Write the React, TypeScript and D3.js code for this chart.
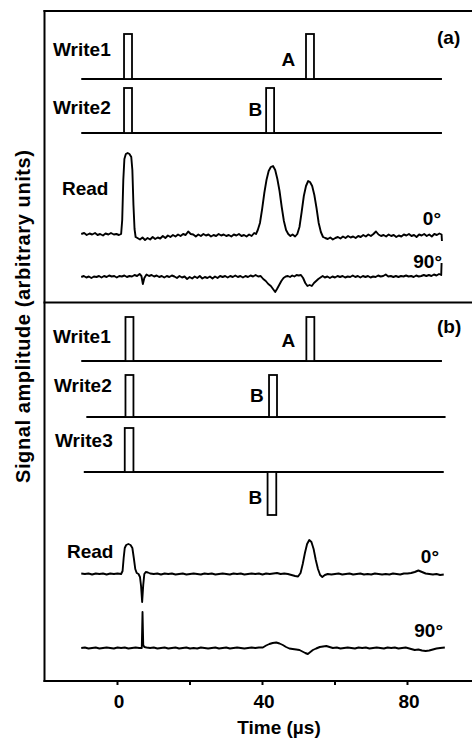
import React from "react";
import * as d3 from "d3";

// ---------- data ----------
const xDomain: [number, number] = [-20, 100];
const xTickValues = [0, 20, 40, 60, 80];
const xTickLabels = ["0", "", "40", "", "80"];

type Pulse = { t0: number; t1: number; amp: number };

// write pulses (time in µs, amplitude in arbitrary units)
const pulsesAWrite1: Pulse[] = [
  { t0: 1.8, t1: 4.0, amp: 4.5 },
  { t0: 52.0, t1: 54.2, amp: 4.5 },
];
const pulsesAWrite2: Pulse[] = [
  { t0: 1.8, t1: 4.0, amp: 4.5 },
  { t0: 41.0, t1: 43.2, amp: 4.5 },
];
const pulsesBWrite1: Pulse[] = [
  { t0: 2.2, t1: 4.4, amp: 4.4 },
  { t0: 52.1, t1: 54.3, amp: 4.4 },
];
const pulsesBWrite2: Pulse[] = [
  { t0: 2.2, t1: 4.4, amp: 4.2 },
  { t0: 41.8, t1: 44.0, amp: 4.2 },
];
const pulsesBWrite3: Pulse[] = [
  { t0: 2.0, t1: 4.4, amp: 4.4 },
  { t0: 41.4, t1: 43.8, amp: -4.3 },
];

// read traces [time µs, amplitude]
const readA0: [number, number][] = [
  [-10, 0.1], [-9.2, 0.2], [-8.5, 0.0], [-7.7, 0.15], [-7, 0.05], [-6.2, 0.2], [-5.5, 0.0], [-4.8, 0.1],
  [-4, -0.05], [-3.3, 0.15], [-2.5, 0.05], [-1.8, 0.2], [-1, 0.05], [-0.3, 0.1], [0.4, 0.0], [1.0, 0.1],
  [1.3, 1.5], [1.6, 5.5], [1.9, 7.6], [2.3, 8.1], [2.8, 8.2], [3.3, 8.1], [3.8, 7.8], [4.1, 6.5],
  [4.4, 3.0], [4.7, 0.6], [5.0, -0.2], [5.5, -0.3], [6.2, -0.45], [6.9, -0.25], [7.6, -0.5], [8.3, -0.3],
  [9.0, -0.45], [9.7, -0.2], [10.4, -0.4], [11.1, -0.25], [11.8, -0.35], [12.5, -0.1], [13.2, -0.3],
  [13.9, -0.05], [14.6, -0.2], [15.3, 0.0], [16.0, -0.15], [16.7, 0.05], [17.4, -0.1], [18.1, 0.1],
  [18.8, 0.0], [19.5, 0.35], [20.2, 0.1], [20.9, 0.05], [21.6, -0.15], [22.3, 0.05], [23.0, -0.1],
  [23.7, 0.1], [24.4, -0.05], [25.1, 0.05], [25.8, -0.15], [26.5, 0.0], [27.2, -0.1], [27.9, 0.1],
  [28.6, -0.05], [29.3, 0.05], [30.0, -0.1], [30.7, 0.0], [31.4, -0.15], [32.1, 0.05], [32.8, -0.05],
  [33.5, 0.1], [34.2, -0.1], [34.9, 0.0], [35.6, -0.15], [36.3, 0.05], [37.0, -0.1], [37.7, 0.2],
  [38.2, 0.1], [38.7, 0.5], [39.3, 1.2], [39.9, 2.6], [40.5, 4.2], [41.1, 5.5], [41.7, 6.4], [42.3, 6.8],
  [42.9, 6.9], [43.5, 6.5], [44.1, 5.6], [44.7, 4.4], [45.3, 2.8], [45.9, 1.4], [46.5, 0.5], [47.1, 0.1],
  [47.7, -0.1], [48.3, 0.05], [49.0, -0.15], [49.6, 0.1], [50.2, 0.8], [50.8, 2.3], [51.4, 3.9],
  [52.0, 4.9], [52.6, 5.4], [53.1, 5.3], [53.7, 4.9], [54.3, 4.0], [54.9, 2.7], [55.5, 1.2], [56.1, 0.3],
  [56.7, -0.2], [57.3, -0.3], [58.0, -0.4], [58.7, -0.25], [59.4, -0.45], [60.1, -0.3], [60.8, -0.2],
  [61.5, -0.35], [62.2, -0.15], [62.9, -0.3], [63.6, -0.1], [64.3, -0.25], [65.0, -0.15], [65.7, -0.3],
  [66.4, -0.1], [67.1, -0.2], [67.8, 0.0], [68.5, -0.15], [69.2, 0.05], [69.9, -0.1], [70.6, 0.1],
  [71.3, 0.35], [72.0, 0.05], [72.7, -0.1], [73.4, 0.0], [74.1, -0.15], [74.8, 0.05], [75.5, -0.1],
  [76.2, 0.0], [76.9, -0.2], [77.6, -0.05], [78.3, -0.15], [79.0, 0.05], [79.7, -0.05], [80.4, 0.1],
  [81.1, -0.1], [81.8, 0.0], [82.5, -0.2], [83.2, 0.05], [83.9, -0.05], [84.6, 0.1], [85.3, -0.1],
  [86.0, 0.05], [86.7, -0.15], [87.4, 0.1], [88.1, 0.0], [88.8, 0.15], [89.4, 0.05], [89.5, -0.6],
];

const readA90: [number, number][] = [
  [-10, 0.0], [-9.3, 0.1], [-8.6, -0.05], [-7.9, 0.05], [-7.2, -0.1], [-6.5, 0.05], [-5.8, 0.0],
  [-5.1, 0.1], [-4.4, -0.05], [-3.7, 0.1], [-3.0, 0.0], [-2.3, 0.15], [-1.6, 0.05], [-0.9, 0.1],
  [-0.2, -0.05], [0.5, 0.1], [1.2, 0.05], [1.9, 0.15], [2.6, 0.0], [3.3, 0.1], [4.0, 0.05], [4.7, 0.2],
  [5.4, 0.1], [6.1, 0.3], [6.6, 0.1], [7.0, -0.7], [7.4, -0.1], [8.0, 0.25], [8.7, 0.1], [9.4, 0.2],
  [10.1, 0.05], [10.8, 0.15], [11.5, 0.0], [12.2, 0.1], [12.9, -0.05], [13.6, 0.1], [14.3, 0.0],
  [15.0, 0.15], [15.7, 0.05], [16.4, -0.1], [17.1, 0.1], [17.8, -0.05], [18.5, 0.05], [19.2, -0.2],
  [19.9, 0.0], [20.6, -0.15], [21.3, 0.05], [22.0, -0.1], [22.7, 0.1], [23.4, -0.15], [24.1, 0.0],
  [24.8, -0.1], [25.5, 0.05], [26.2, -0.15], [26.9, 0.05], [27.6, -0.1], [28.3, 0.1], [29.0, 0.0],
  [29.7, 0.1], [30.4, -0.05], [31.1, 0.1], [31.8, 0.0], [32.5, 0.15], [33.2, 0.0], [33.9, 0.1],
  [34.6, -0.05], [35.3, 0.1], [36.0, 0.0], [36.7, 0.15], [37.4, 0.05], [38.1, 0.2], [38.8, 0.05],
  [39.5, 0.1], [40.2, -0.2], [40.9, -0.4], [41.6, -0.7], [42.3, -0.9], [42.9, -1.2], [43.5, -1.5],
  [44.0, -1.2], [44.6, -0.8], [45.2, -0.4], [45.8, -0.1], [46.4, 0.05], [47.0, 0.1], [47.6, 0.0],
  [48.2, 0.15], [48.8, 0.05], [49.4, 0.2], [50.0, 0.15], [50.6, 0.2], [51.2, -0.1], [51.8, -0.6],
  [52.4, -0.9], [53.0, -0.8], [53.6, -0.9], [54.2, -0.6], [54.8, -0.4], [55.4, -0.2], [56.0, -0.05],
  [56.6, 0.1], [57.2, -0.05], [57.9, 0.05], [58.6, -0.1], [59.3, 0.05], [60.0, -0.05], [60.7, 0.1],
  [61.4, 0.0], [62.1, 0.1], [62.8, -0.05], [63.5, 0.05], [64.2, 0.0], [64.9, 0.15], [65.6, 0.0],
  [66.3, 0.1], [67.0, -0.05], [67.7, 0.1], [68.4, 0.0], [69.1, 0.1], [69.8, -0.05], [70.5, 0.05],
  [71.2, 0.0], [71.9, 0.15], [72.6, 0.05], [73.3, 0.1], [74.0, 0.25], [74.7, 0.05], [75.4, 0.1],
  [76.1, 0.0], [76.8, 0.1], [77.5, 0.0], [78.2, 0.1], [78.9, 0.05], [79.6, 0.15], [80.3, 0.05],
  [81.0, 0.1], [81.7, 0.0], [82.4, 0.15], [83.1, 0.05], [83.8, 0.1], [84.5, 0.2], [85.2, 0.1],
  [85.9, 0.2], [86.6, 0.1], [87.3, 0.25], [88.0, 0.15], [88.7, 0.3], [89.3, 0.2], [89.4, 1.4],
];

const readB0: [number, number][] = [
  [-10, 0.05], [-9, 0.0], [-8, 0.05], [-7, -0.05], [-6, 0.05], [-5, 0.0], [-4, 0.05], [-3, -0.05],
  [-2, 0.05], [-1, 0.0], [0, 0.05], [1.0, 0.0], [1.4, 0.3], [1.7, 1.6], [2.0, 2.6], [2.4, 2.9],
  [3.0, 3.0], [3.6, 2.9], [4.1, 2.6], [4.5, 1.6], [4.9, 0.5], [5.3, 0.1], [5.8, 0.0], [6.2, -0.3],
  [6.5, -1.2], [6.8, -2.8], [7.1, -1.1], [7.4, 0.0], [7.8, 0.2], [8.4, 0.15], [9.0, 0.05], [10, 0.0],
  [11, 0.05], [12, -0.05], [13, 0.05], [14, 0.0], [15, 0.05], [16, -0.05], [17, 0.0], [18, 0.05],
  [19, -0.05], [20, 0.0], [21, 0.05], [22, 0.0], [23, -0.05], [24, 0.05], [25, 0.0], [26, 0.05],
  [27, -0.05], [28, 0.0], [29, 0.05], [30, 0.0], [31, -0.05], [32, 0.05], [33, 0.0], [34, 0.05],
  [35, -0.05], [36, 0.0], [37, 0.05], [38, 0.0], [39, 0.05], [40, -0.05], [41, 0.05], [42, 0.0],
  [43, 0.05], [44, 0.1], [45, 0.0], [46, 0.05], [47, 0.0], [48, -0.1], [49.0, -0.2], [49.8, -0.25],
  [50.5, 0.1], [51.1, 1.0], [51.7, 2.1], [52.3, 3.0], [52.9, 3.4], [53.5, 3.2], [54.1, 2.5],
  [54.7, 1.4], [55.3, 0.5], [55.9, -0.1], [56.5, -0.3], [57.2, -0.1], [58, 0.0], [59, -0.05],
  [60, 0.0], [61, 0.05], [62, -0.05], [63, 0.0], [64, 0.05], [65, -0.05], [66, 0.0], [67, 0.05],
  [68, -0.05], [69, 0.0], [70, -0.05], [71, 0.05], [72, 0.0], [73, -0.05], [74, 0.0], [75, -0.05],
  [76, 0.05], [77, 0.0], [78, -0.05], [79, 0.05], [80, 0.05], [81, 0.1], [82, 0.2], [83, 0.35],
  [84, 0.2], [85, 0.05], [86, 0.0], [87, -0.05], [88, 0.0], [89, -0.1], [90, -0.05],
];

const readB90: [number, number][] = [
  [-10, 0.0], [-9, 0.05], [-8, -0.05], [-7, 0.0], [-6, 0.05], [-5, -0.05], [-4, 0.0], [-3, 0.05],
  [-2, 0.0], [-1, -0.05], [0, 0.05], [1, 0.0], [2, 0.05], [3, -0.05], [4, 0.0], [5, 0.05], [6.0, 0.0],
  [6.7, 0.0], [6.9, 3.6], [7.1, 0.3], [7.4, 0.1], [8, 0.05], [9, 0.0], [10, 0.05], [11, -0.05],
  [12, 0.0], [13, 0.05], [14, -0.05], [15, 0.0], [16, 0.05], [17, -0.05], [18, 0.0], [19, 0.05],
  [20, -0.05], [21, 0.0], [22, -0.05], [23, 0.05], [24, 0.0], [25, -0.05], [26, 0.0], [27, 0.05],
  [28, -0.05], [29, 0.0], [30, 0.05], [31, -0.05], [32, 0.0], [33, 0.05], [34, 0.0], [35, -0.05],
  [36, 0.0], [37, 0.05], [38, 0.0], [39, 0.05], [40.1, 0.05], [41.0, 0.25], [41.9, 0.4], [42.8, 0.5],
  [43.8, 0.55], [44.7, 0.45], [45.6, 0.3], [46.5, 0.1], [47.4, -0.05], [48.3, -0.1], [49.3, -0.15],
  [50.2, -0.2], [51.0, -0.35], [51.8, -0.5], [52.5, -0.6], [53.2, -0.4], [53.9, -0.2], [54.8, -0.05],
  [55.8, 0.1], [56.7, 0.15], [57.6, 0.2], [58.5, 0.1], [59.4, 0.0], [60.5, 0.05], [61.5, -0.05],
  [62.5, 0.0], [63.5, 0.05], [64.5, 0.0], [65.5, -0.05], [66.5, 0.05], [67.5, 0.0], [68.5, 0.05],
  [69.5, -0.05], [70.5, 0.0], [71.5, 0.05], [72.5, 0.0], [73.5, -0.05], [74.5, 0.05], [75.5, 0.0],
  [76.5, 0.05], [77.5, -0.05], [78.5, 0.0], [79.5, 0.05], [80, 0.0], [81, -0.1], [82, -0.2],
  [83, -0.15], [84, -0.25], [85, -0.3], [86, -0.25], [87, -0.15], [88, -0.05], [89, 0.0], [90.3, 0.05],
];

// span of each write track baseline (µs)
const writeSpans: [number, number][] = [
  [-10, 89.5], [-10, 89.5], [-10, 89.5], [-8.6, 90.5], [-9.3, 90],
];

// ---------- layout ----------
const W = 472;
const H = 740;
const FONT = "'Liberation Sans', Arial, Helvetica, sans-serif";

const writeTracks = [
  { base: 79, pulses: pulsesAWrite1, span: writeSpans[0] },
  { base: 133, pulses: pulsesAWrite2, span: writeSpans[1] },
  { base: 361, pulses: pulsesBWrite1, span: writeSpans[2] },
  { base: 417, pulses: pulsesBWrite2, span: writeSpans[3] },
  { base: 472, pulses: pulsesBWrite3, span: writeSpans[4] },
];
const readTracks = [
  { base: 235, data: readA0 },
  { base: 277, data: readA90 },
  { base: 574, data: readB0 },
  { base: 648, data: readB90 },
];

const labels: { text: string; x: number; y: number; anchor?: string }[] = [
  { text: "Write1", x: 53, y: 56 },
  { text: "A", x: 281.5, y: 65.5 },
  { text: "(a)", x: 437, y: 44 },
  { text: "Write2", x: 53, y: 114 },
  { text: "B", x: 248.5, y: 116 },
  { text: "Read", x: 62, y: 195 },
  { text: "0°", x: 441, y: 225, anchor: "end" },
  { text: "90°", x: 442, y: 268, anchor: "end" },
  { text: "Write1", x: 53, y: 343 },
  { text: "A", x: 281.5, y: 346.5 },
  { text: "(b)", x: 437, y: 333 },
  { text: "Write2", x: 54, y: 391.5 },
  { text: "B", x: 250, y: 401.5 },
  { text: "Write3", x: 55, y: 446.5 },
  { text: "B", x: 248.5, y: 504 },
  { text: "Read", x: 67, y: 558 },
  { text: "0°", x: 439, y: 563, anchor: "end" },
  { text: "90°", x: 443, y: 636.5, anchor: "end" },
];

export default function App() {
  const x = d3.scaleLinear().domain(xDomain).range([45, 480]);
  const amp = d3.scaleLinear().domain([0, 1]).range([0, 10]);

  const axisY = 681;
  const axisX = 44.5;

  return (
    <svg
      width={W}
      height={H}
      style={{ position: "absolute", left: 0, top: 0, background: "#fff" }}
      fontFamily={FONT}
      fontWeight="bold"
    >
      <rect x={0} y={0} width={W} height={H} fill="#fff" />
      {/* frame */}
      <line x1={axisX} x2={axisX} y1={10} y2={axisY + 1} stroke="#000" strokeWidth={2} />
      <line x1={axisX - 1} x2={W} y1={11} y2={11} stroke="#000" strokeWidth={2} />
      <line x1={axisX - 1} x2={W} y1={302.5} y2={302.5} stroke="#000" strokeWidth={2} />
      <line x1={axisX - 1} x2={W} y1={axisY} y2={axisY} stroke="#000" strokeWidth={2} />

      {/* x ticks */}
      {xTickValues.map((t, i) => (
        <g key={"t" + t}>
          <line x1={x(t)} x2={x(t)} y1={axisY} y2={axisY + 4} stroke="#000" strokeWidth={2} />
          {xTickLabels[i] && (
            <text x={x(t) + 1.5} y={708} textAnchor="middle" fontSize={19}>
              {xTickLabels[i]}
            </text>
          )}
        </g>
      ))}
      <text x={279} y={734} textAnchor="middle" fontSize={19}>
        Time (µs)
      </text>
      <text
        transform="translate(30,316.5) rotate(-90)"
        textAnchor="middle"
        fontSize={20}
        textLength={333}
        lengthAdjust="spacing"
      >
        Signal amplitude (arbitrary units)
      </text>

      {/* write tracks */}
      {writeTracks.map((tr, i) => (
        <g key={"w" + i}>
          <line
            x1={x(tr.span[0])}
            x2={x(tr.span[1])}
            y1={tr.base}
            y2={tr.base}
            stroke="#000"
            strokeWidth={2}
          />
          {tr.pulses.map((p, j) => {
            const y0 = tr.base;
            const y1 = tr.base - amp(p.amp);
            return (
              <rect
                key={j}
                x={x(p.t0)}
                width={x(p.t1) - x(p.t0)}
                y={Math.min(y0, y1)}
                height={Math.abs(y1 - y0)}
                fill="#fff"
                stroke="#000"
                strokeWidth={1.8}
              />
            );
          })}
        </g>
      ))}

      {/* read traces */}
      {readTracks.map((tr, i) => {
        const line = d3
          .line<[number, number]>()
          .x((d) => x(d[0]))
          .y((d) => tr.base - amp(d[1]));
        return (
          <path
            key={"r" + i}
            d={line(tr.data) || ""}
            fill="none"
            stroke="#000"
            strokeWidth={1.9}
            strokeLinejoin="round"
          />
        );
      })}

      {/* labels */}
      {labels.map((l, i) => (
        <text key={"l" + i} x={l.x} y={l.y} fontSize={19} textAnchor={l.anchor || "start"}>
          {l.text}
        </text>
      ))}
    </svg>
  );
}
